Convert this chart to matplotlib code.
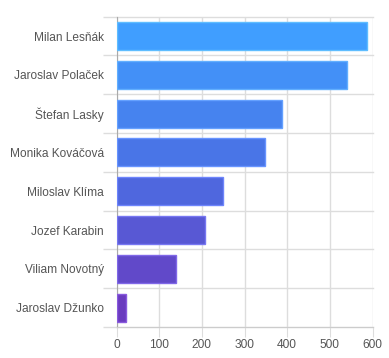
import numpy as np
import matplotlib
matplotlib.use("Agg")
import matplotlib.pyplot as plt
from matplotlib.colors import LinearSegmentedColormap

names = ["Milan Lesňák", "Jaroslav Polaček", "Štefan Lasky", "Monika Kováčová",
         "Miloslav Klíma", "Jozef Karabin", "Viliam Novotný", "Jaroslav Džunko"]
values = [586, 540, 387, 348, 250, 207, 139, 23]
x_ticks = [0, 100, 200, 300, 400, 500, 600]

plt.rcParams['font.family'] = ['Liberation Sans', 'DejaVu Sans']

fig = plt.figure(figsize=(3.89, 3.58), dpi=100)
ax = fig.add_axes([116.5 / 389, 31 / 358, 256 / 389, 310.3 / 358])

cmap = LinearSegmentedColormap.from_list("g", ["#409EFF", "#4B6EE3", "#6A3BBF"])
n = len(names)
colors = [cmap(i / (n - 1)) for i in range(n)]
edge = [tuple(min(1, c + 0.12) for c in col[:3]) for col in colors]

y = np.arange(n)
ax.barh(y, values, height=0.72, color=colors, edgecolor=edge, linewidth=1, zorder=3)

ax.set_ylim(n - 0.5, -0.5)
ax.set_xlim(0, 600)
ax.set_yticks(y)
ax.set_yticklabels(names)
ax.set_yticks(np.arange(-0.5, n, 1), minor=True)
ax.set_xticks(x_ticks)

ax.grid(True, which="minor", axis="y", color="#dddddd", linewidth=1, zorder=0, clip_on=False)
ax.grid(True, which="major", axis="x", color="#dddddd", linewidth=1, zorder=0)
ax.tick_params(axis="y", which="major", length=0, pad=9, labelsize=8.6, labelcolor="#555555")
ax.tick_params(axis="y", which="minor", length=10, color="#dddddd", width=1)
ax.tick_params(axis="x", which="major", length=7, color="#dddddd", pad=2, labelsize=8.6, labelcolor="#555555")

for s in ["top", "right"]:
    ax.spines[s].set_visible(False)
ax.spines["left"].set_color("#aaaaaa")
ax.spines["bottom"].set_color("#cccccc")

fig.savefig("out.png", dpi=100)
